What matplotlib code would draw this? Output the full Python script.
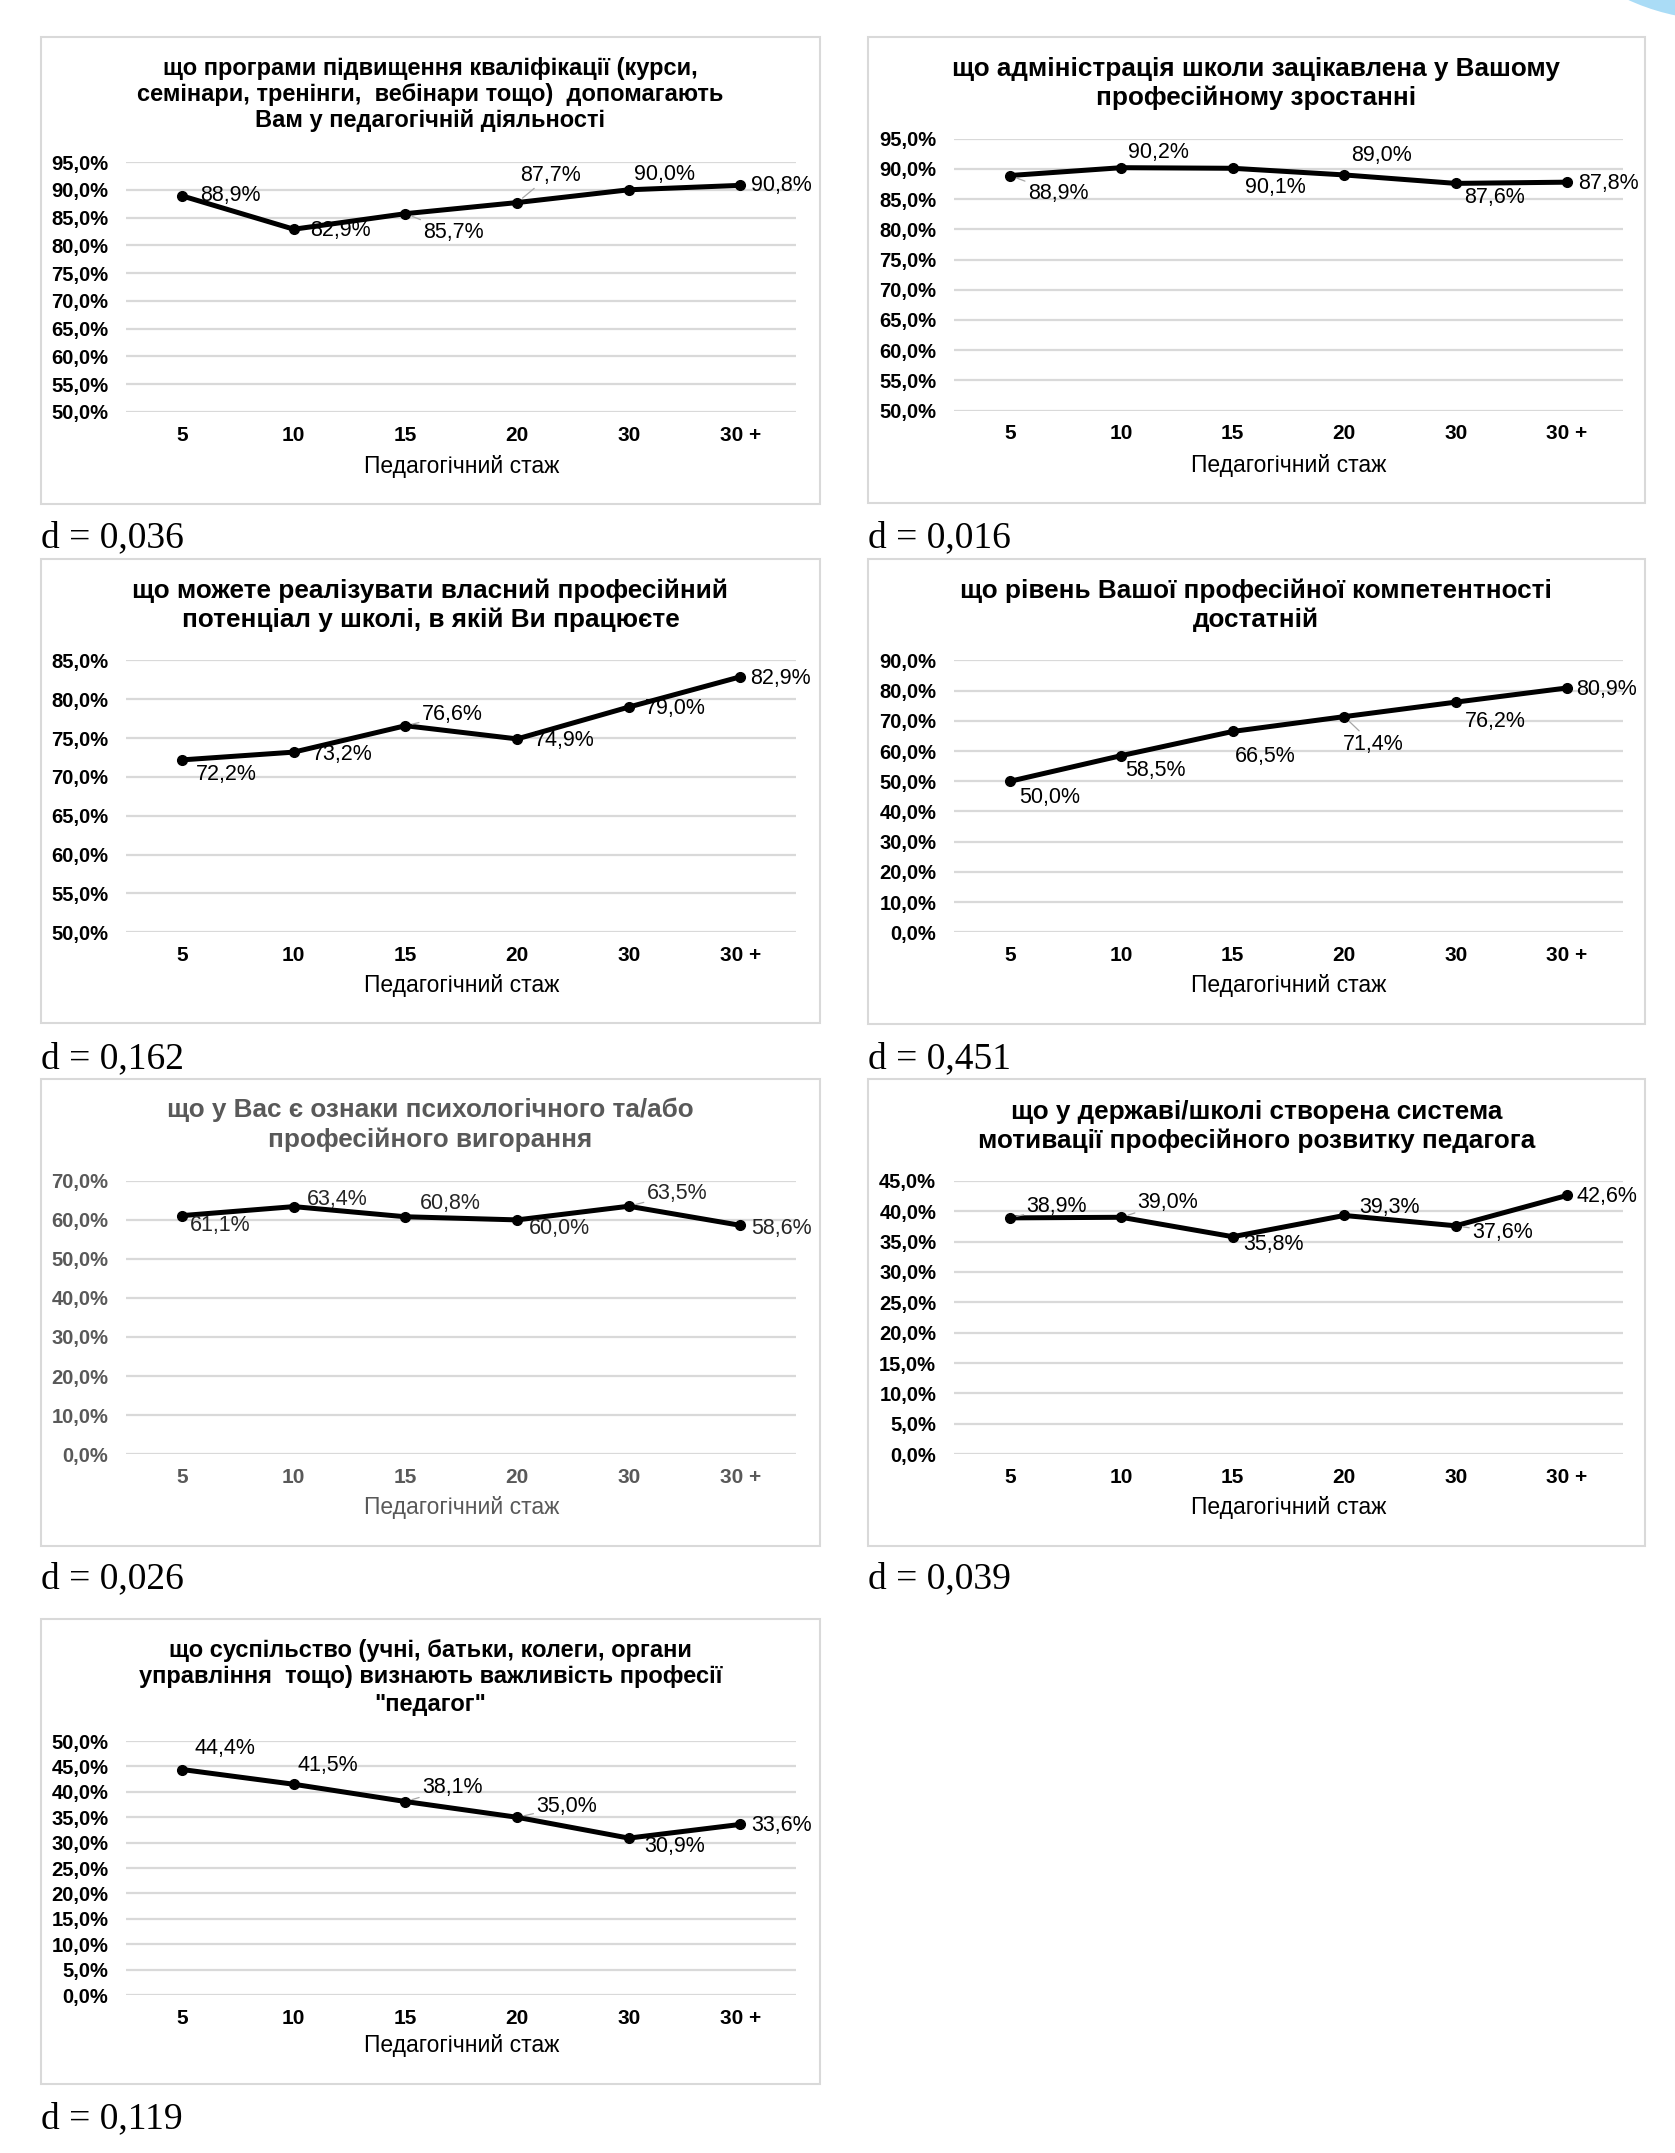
import matplotlib
matplotlib.use('Agg')
import matplotlib.pyplot as plt
from matplotlib.patches import Rectangle, Ellipse
import numpy as np

# data
categories = ['5', '10', '15', '20', '30', '30 +']

titles = [
    ['що програми підвищення кваліфікації (курси,',
     'семінари, тренінги,  вебінари тощо)  допомагають',
     'Вам у педагогічній діяльності'],
    ['що адміністрація школи зацікавлена у Вашому',
     'професійному зростанні'],
    ['що можете реалізувати власний професійний',
     'потенціал у школі, в якій Ви працюєте'],
    ['що рівень Вашої професійної компетентності',
     'достатній'],
    ['що у Вас є ознаки психологічного та/або',
     'професійного вигорання'],
    ['що у державі/школі створена система',
     'мотивації професійного розвитку педагога'],
    ['що суспільство (учні, батьки, колеги, органи',
     'управління  тощо) визнають важливість професії',
     '"педагог"'],
]

values_1 = [88.9, 82.9, 85.7, 87.7, 90.0, 90.8]
values_2 = [88.9, 90.2, 90.1, 89.0, 87.6, 87.8]
values_3 = [72.2, 73.2, 76.6, 74.9, 79.0, 82.9]
values_4 = [50.0, 58.5, 66.5, 71.4, 76.2, 80.9]
values_5 = [61.1, 63.4, 60.8, 60.0, 63.5, 58.6]
values_6 = [38.9, 39.0, 35.8, 39.3, 37.6, 42.6]
values_7 = [44.4, 41.5, 38.1, 35.0, 30.9, 33.6]
all_values = [values_1, values_2, values_3, values_4, values_5, values_6, values_7]

y_ranges = [(50, 95, 5), (50, 95, 5), (50, 85, 5), (0, 90, 10),
            (0, 70, 10), (0, 45, 5), (0, 50, 5)]

d_values = ['d = 0,036', 'd = 0,016', 'd = 0,162', 'd = 0,451',
            'd = 0,026', 'd = 0,039', 'd = 0,119']

x_label = 'Педагогічний стаж'

# layout, measured on a 1220 x 1568 grid
W, H = 1220.0, 1568.0
S = 1675.0 / W

# panel box, plot area, title line ys, x label y, caption y
layout = [
    ((30, 27, 597, 367), (92, 118, 580, 300), [50, 69, 88], 340, 392),
    ((632, 27, 1198, 366), (695, 101, 1182, 299), [50, 71], 339, 392),
    ((30, 407, 597, 745), (92, 481, 580, 679), [430, 451], 718, 771),
    ((632, 407, 1198, 746), (695, 481, 1182, 679), [430, 451], 718, 771),
    ((30, 786, 597, 1126), (92, 860, 580, 1059), [808, 830], 1098, 1150),
    ((632, 786, 1198, 1126), (695, 860, 1182, 1059), [810, 831], 1098, 1150),
    ((30, 1179, 597, 1518), (92, 1268, 580, 1453), [1202, 1221, 1241], 1490, 1543),
]
title_sizes = [17, 18.8, 18.8, 18.8, 18.8, 18.8, 17]

# label offsets (dx, dy) in grid px, y down
label_offsets = [
    [(35, 0), (34, 1), (35, 14), (24, -20), (26, -11), (30, 0)],
    [(35, 13), (27, -11), (31, 14), (27, -14), (28, 10), (30, 1)],
    [(32, 11), (35, 2), (34, -8), (34, 1), (34, 1), (29, 1)],
    [(29, 12), (25, 11), (24, 18), (21, 20), (29, 14), (29, 1)],
    [(28, 7), (32, -5), (33, -10), (31, 6), (35, -9), (30, 2)],
    [(34, -8), (34, -11), (30, 6), (33, -6), (34, 5), (29, 1)],
    [(31, -15), (25, -14), (34, -10), (36, -8), (33, 6), (30, 1)],
]
leaders = [[2, 3], [0], [2], [3], [4], [0, 1, 4], [2, 3]]

FONT = ['Liberation Sans Narrow', 'Liberation Sans', 'DejaVu Sans']
plt.rcParams['font.family'] = FONT

fig = plt.figure(figsize=(16.75, 21.53), dpi=100)

# decorative blue blob in the top-right corner
fig.add_artist(Ellipse((1720 / 1675, 1 + 200 / 2153), 440 / 1675, 440 / 2153,
                       transform=fig.transFigure, color='#aadcf6', lw=0))

for k, vals in enumerate(all_values):
    box, area, title_ys, xlab_y, cap_y = layout[k]
    lo, hi, step = y_ranges[k]
    txt_col = '#595959' if k == 4 else 'black'

    bx0, by0, bx1, by1 = box
    fig.add_artist(Rectangle((bx0 / W, 1 - by1 / H), (bx1 - bx0) / W, (by1 - by0) / H,
                             transform=fig.transFigure, fill=False,
                             ec='#d9d9d9', lw=1.5))

    ax0, ay0, ax1, ay1 = area
    ax = fig.add_axes([ax0 / W, 1 - ay1 / H, (ax1 - ax0) / W, (ay1 - ay0) / H])
    x = np.arange(len(categories))
    ax.plot(x, vals, color='black', lw=3.6, marker='o', ms=7, zorder=3)
    ax.set_xlim(-0.5, len(categories) - 0.5)
    ax.set_ylim(lo, hi)
    yt = np.arange(lo, hi + step / 2, step)
    ax.set_yticks(yt)
    ax.set_yticklabels([('%.1f%%' % v).replace('.', ',') for v in yt])
    ax.set_xticks(x)
    ax.set_xticklabels(categories)
    ax.tick_params(length=0, labelsize=14.5, labelcolor=txt_col)
    ax.tick_params(axis='y', pad=13)
    ax.tick_params(axis='x', labelsize=15, pad=10)
    for lab in ax.get_xticklabels() + ax.get_yticklabels():
        lab.set_fontweight('bold')
    ax.grid(axis='y', color='#d9d9d9', lw=1.6)
    ax.set_axisbelow(True)
    for sp in ax.spines.values():
        sp.set_visible(False)

    for i, v in enumerate(vals):
        dx, dy = label_offsets[k][i]
        props = None
        if i in leaders[k]:
            props = dict(arrowstyle='-', color='#a6a6a6', lw=0.9,
                         shrinkA=0, shrinkB=5)
        ax.annotate(('%.1f%%' % v).replace('.', ','), xy=(i, v),
                    xytext=(dx * S, -dy * S), textcoords='offset pixels',
                    ha='center', va='center', fontsize=15.5,
                    color='#262626' if k == 4 else 'black',
                    arrowprops=props, zorder=4)

    cx = (bx0 + bx1) / 2 / W
    for line, ty in zip(titles[k], title_ys):
        fig.text(cx, 1 - ty / H, line, ha='center', va='center',
                 fontsize=title_sizes[k], fontweight='bold', color=txt_col)
    fig.text((ax0 + ax1) / 2 / W, 1 - xlab_y / H, x_label, ha='center',
             va='center', fontsize=16.5, color=txt_col)
    fig.text(bx0 / W, 1 - cap_y / H, d_values[k], ha='left', va='center',
             fontsize=27, family='Liberation Serif')

fig.savefig('out.png', dpi=100)
